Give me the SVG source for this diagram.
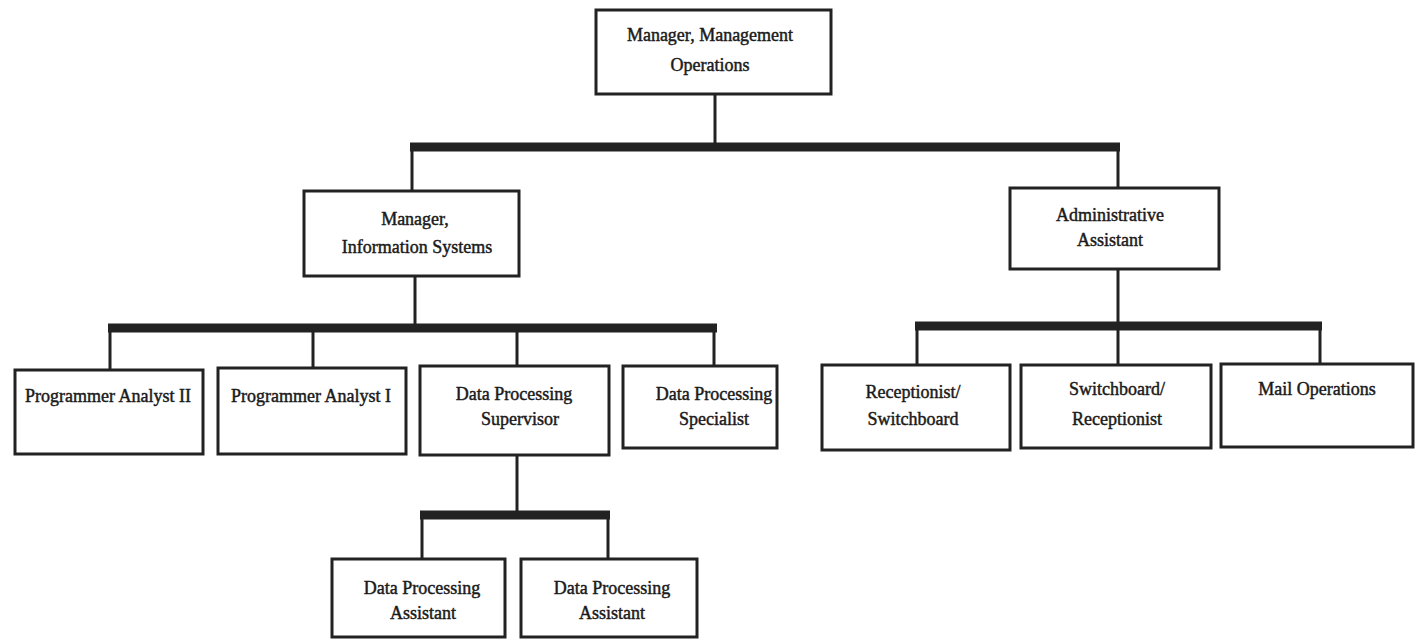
<svg xmlns="http://www.w3.org/2000/svg" width="1416" height="639" viewBox="0 0 1416 639">
<style>
.box{fill:#fff;stroke:#222;stroke-width:3}
.t{font-family:"Liberation Serif","Times New Roman",serif;font-size:18px;fill:#1a1a1a;stroke:#1a1a1a;stroke-width:0.45;text-anchor:middle}
.bus{stroke:#222;stroke-width:9;fill:none}
.v{stroke:#222;stroke-width:3;fill:none}
</style>
<rect width="1416" height="639" fill="#fff"/>
<g id="connectors">
<path class="v" d="M715 94V147"/>
<path class="v" d="M412 147V191M1118 147V188"/>
<path class="bus" d="M410 147H1120"/>
<path class="v" d="M415 276V328"/>
<path class="v" d="M110 328V370M313 328V368M517 328V366M714 328V366"/>
<path class="bus" d="M108 328H717"/>
<path class="v" d="M1118 269V326"/>
<path class="v" d="M917 326V365M1118 326V365M1320 326V364"/>
<path class="bus" d="M915 326H1322"/>
<path class="v" d="M517 455V515"/>
<path class="v" d="M422 515V559M608 515V559"/>
<path class="bus" d="M420 515H610"/>
</g>
<g id="n-mmo"><rect class="box" x="596" y="10" width="235" height="84"/><text class="t" x="710" y="41">Manager, Management</text><text class="t" x="710" y="71">Operations</text></g>
<g id="n-mis"><rect class="box" x="304" y="191" width="215" height="85"/><text class="t" x="415" y="225">Manager,</text><text class="t" x="417" y="253">Information Systems</text></g>
<g id="n-aa"><rect class="box" x="1010" y="188" width="209" height="81"/><text class="t" x="1110" y="221">Administrative</text><text class="t" x="1110" y="246">Assistant</text></g>
<g id="n-pa2"><rect class="box" x="15" y="370" width="188" height="84"/><text class="t" x="108" y="402">Programmer Analyst II</text></g>
<g id="n-pa1"><rect class="box" x="218" y="368" width="188" height="86"/><text class="t" x="311" y="402">Programmer Analyst I</text></g>
<g id="n-dps"><rect class="box" x="420" y="366" width="189" height="89"/><text class="t" x="514" y="400">Data Processing</text><text class="t" x="520" y="425">Supervisor</text></g>
<g id="n-dpspec"><rect class="box" x="623" y="366" width="154" height="82"/><text class="t" x="714" y="400">Data Processing</text><text class="t" x="714" y="425">Specialist</text></g>
<g id="n-rs"><rect class="box" x="822" y="365" width="188" height="85"/><text class="t" x="913" y="398">Receptionist/</text><text class="t" x="913" y="425">Switchboard</text></g>
<g id="n-sr"><rect class="box" x="1021" y="365" width="190" height="83"/><text class="t" x="1117" y="395">Switchboard/</text><text class="t" x="1117" y="425">Receptionist</text></g>
<g id="n-mail"><rect class="box" x="1221" y="364" width="192" height="83"/><text class="t" x="1317" y="395">Mail Operations</text></g>
<g id="n-dpa1"><rect class="box" x="332" y="559" width="173" height="78"/><text class="t" x="422" y="594">Data Processing</text><text class="t" x="423" y="619">Assistant</text></g>
<g id="n-dpa2"><rect class="box" x="521" y="559" width="176" height="78"/><text class="t" x="612" y="594">Data Processing</text><text class="t" x="612" y="619">Assistant</text></g>
</svg>
